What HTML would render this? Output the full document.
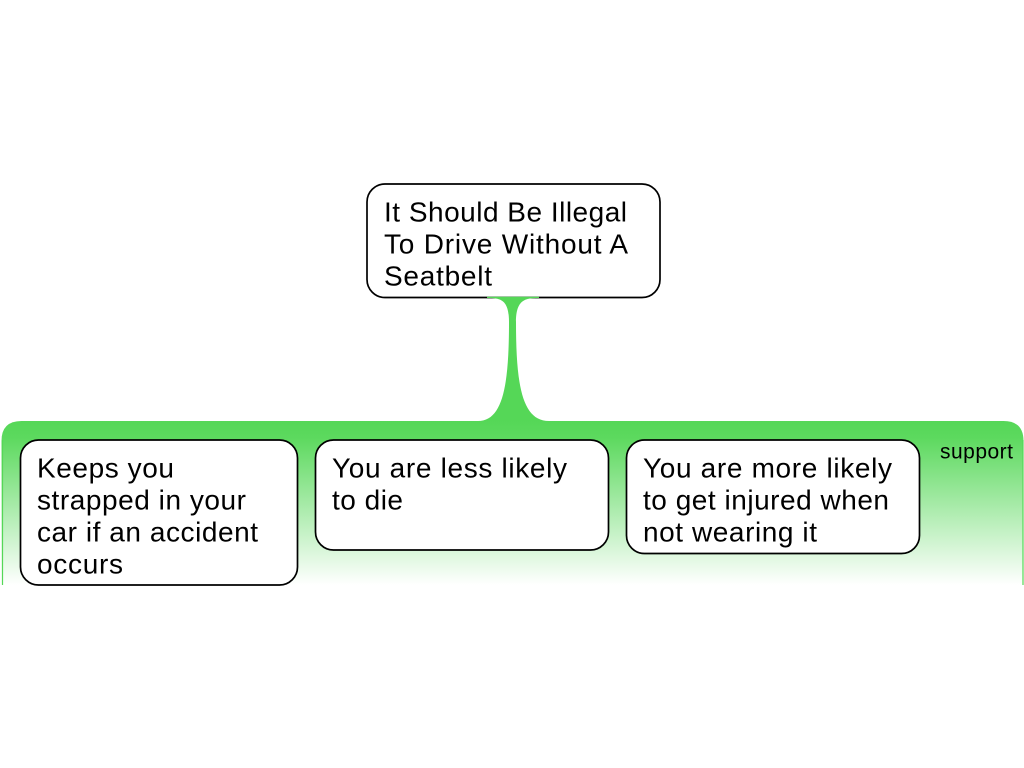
<!DOCTYPE html>
<html>
<head>
<meta charset="utf-8">
<style>
html,body{margin:0;padding:0;background:#fff;width:1024px;height:768px;overflow:hidden}
svg{display:block}
text{font-family:"Liberation Sans",sans-serif;fill:#000}
.t{font-size:28px}
</style>
</head>
<body>
<svg width="1024" height="768" viewBox="0 0 1024 768" xmlns="http://www.w3.org/2000/svg">
<defs>
<linearGradient id="g" x1="0" y1="421" x2="0" y2="585" gradientUnits="userSpaceOnUse">
<stop offset="0" stop-color="#55d757"/>
<stop offset="0.1" stop-color="#5cd95e"/>
<stop offset="1" stop-color="#ffffff"/>
</linearGradient>
</defs>
<path d="M1.5 585 V441 Q1.5 421 21.500 421 H1003.500 Q1023.500 421 1023.500 441 V585 Z" fill="url(#g)"/>
<path d="M2.500 585 V440" stroke="#55d757" stroke-width="1.200" fill="none"/>
<path d="M1023 585 V440" stroke="#55d757" stroke-width="1.200" fill="none"/>
<rect x="367" y="184" width="293" height="113.500" rx="18" ry="18" fill="#fff" stroke="#000" stroke-width="1.700"/>
<path d="M487 296.800 H539 V298 C526 298 516 299 516 322 C516 385 522 421 549 421 H478 C503 421 509 385 509 322 C509 299 500 298 487 298 Z" fill="#55d757"/>
<rect x="20.500" y="440" width="277" height="145" rx="18" ry="18" fill="#fff" stroke="#000" stroke-width="1.700"/>
<rect x="315.500" y="440" width="293" height="110" rx="18" ry="18" fill="#fff" stroke="#000" stroke-width="1.700"/>
<rect x="626.500" y="440" width="293" height="113.500" rx="18" ry="18" fill="#fff" stroke="#000" stroke-width="1.700"/>
<text class="t" x="384" y="221.700" textLength="243" lengthAdjust="spacing">It Should Be Illegal</text>
<text class="t" x="384" y="253.700" textLength="244" lengthAdjust="spacing">To Drive Without A</text>
<text class="t" x="384" y="285.700" textLength="108" lengthAdjust="spacing">Seatbelt</text>
<text class="t" x="37" y="477.700" textLength="137" lengthAdjust="spacing">Keeps you</text>
<text class="t" x="37" y="509.700" textLength="209" lengthAdjust="spacing">strapped in your</text>
<text class="t" x="37" y="541.700" textLength="221" lengthAdjust="spacing">car if an accident</text>
<text class="t" x="37" y="573.700" textLength="86" lengthAdjust="spacing">occurs</text>
<text class="t" x="332" y="477.700" textLength="235" lengthAdjust="spacing">You are less likely</text>
<text class="t" x="332" y="509.700" textLength="71" lengthAdjust="spacing">to die</text>
<text class="t" x="643" y="477.700" textLength="249" lengthAdjust="spacing">You are more likely</text>
<text class="t" x="643" y="509.700" textLength="246" lengthAdjust="spacing">to get injured when</text>
<text class="t" x="643" y="541.700" textLength="174" lengthAdjust="spacing">not wearing it</text>
<text x="940" y="458.500" font-size="21" textLength="73" lengthAdjust="spacing">support</text>
</svg>
</body>
</html>
